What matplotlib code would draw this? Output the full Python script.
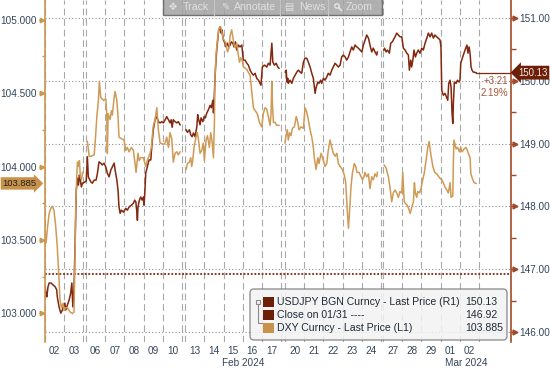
import numpy as np
import matplotlib
matplotlib.use("Agg")
import matplotlib.pyplot as plt
from matplotlib.patches import Rectangle, FancyBboxPatch, Circle
from matplotlib.lines import Line2D
from matplotlib.ticker import MultipleLocator, FormatStrFormatter
from matplotlib.transforms import blended_transform_factory, offset_copy

plt.rcParams["font.family"] = ["Liberation Sans", "DejaVu Sans"]

# --- data ------------------------------------------------------------------
# x = trading time in days from the left edge of the chart
JPY_T = [
    0.00, 0.04, 0.09, 0.15, 0.21, 0.31, 0.41, 0.52, 0.60, 0.63, 0.72, 0.81, 0.89, 0.94, 1.02,
    1.07, 1.15, 1.24, 1.32, 1.38, 1.43, 1.49, 1.61, 1.67, 1.72, 1.77, 1.82, 1.87, 1.93,
    2.12, 2.18, 2.23, 2.36, 2.44, 2.53, 2.63, 2.70, 2.78, 2.87, 2.95, 3.04, 3.13, 3.21, 3.30,
    3.39, 3.47, 3.56, 3.61, 3.70, 3.76, 3.81, 3.87, 3.93, 4.04, 4.16, 4.24, 4.33, 4.45, 4.55,
    4.62, 4.68, 4.73, 4.76, 4.79, 4.86, 4.93, 5.00, 5.07, 5.10, 5.14, 5.19, 5.27, 5.36, 5.45,
    5.50, 5.58, 5.67, 5.76, 5.84, 5.93, 6.02, 6.10, 6.19, 6.27, 6.36, 6.44, 6.50, 6.55, 6.61,
    6.70, 6.79, 6.87, 6.96,
    7.27, 7.34, 7.44, 7.51, 7.58, 7.65, 7.73, 7.82, 7.87, 7.92, 7.99, 8.04, 8.13, 8.20, 8.26,
    8.34, 8.42, 8.51, 8.57, 8.65, 8.68, 8.73, 8.78, 8.85, 8.90, 8.95, 9.02, 9.07, 9.12, 9.19,
    9.28, 9.33, 9.40, 9.47, 9.54, 9.60, 9.68, 9.74, 9.81, 9.88, 9.96, 10.05, 10.14, 10.22, 10.31,
    10.40, 10.48, 10.57, 10.66, 10.74, 10.83, 10.91, 11.00, 11.08, 11.13, 11.20, 11.31, 11.43,
    11.51, 11.60, 11.69, 11.74, 11.82, 11.91, 12.00, 12.06,
    12.38, 12.43, 12.47, 12.51, 12.54, 12.63, 12.72, 12.80, 12.89, 12.98, 13.06, 13.15, 13.23,
    13.32, 13.40, 13.49, 13.57, 13.66, 13.75, 13.83, 13.92, 13.97, 14.06, 14.12, 14.21, 14.26,
    14.35, 14.43, 14.52, 14.60, 14.69, 14.78, 14.86, 14.95, 15.04, 15.12, 15.21, 15.29, 15.38,
    15.47, 15.55, 15.64, 15.72, 15.81, 15.89, 15.98, 16.07, 16.15, 16.24, 16.33, 16.41, 16.50,
    16.58, 16.67, 16.75, 16.84, 16.92, 17.01, 17.10, 17.13,
    17.46, 17.50, 17.58, 17.65, 17.75, 17.82, 17.90, 17.95, 18.04, 18.13, 18.21, 18.30, 18.39,
    18.47, 18.56, 18.65, 18.73, 18.78, 18.85, 18.90, 18.96, 19.02, 19.09, 19.16, 19.24, 19.33,
    19.42, 19.50, 19.59, 19.68, 19.76, 19.85, 19.93, 20.02, 20.10, 20.19, 20.27, 20.36, 20.41,
    20.45, 20.53, 20.62, 20.71, 20.76, 20.81, 20.88, 20.93, 20.98, 21.02, 21.05, 21.10, 21.19,
    21.26, 21.34, 21.39, 21.43, 21.53, 21.65, 21.75, 21.80, 21.86, 21.91, 21.96, 22.01, 22.07,
    22.22,
]
JPY_V = [
    146.72, 146.62, 146.56, 146.72, 146.78, 146.78, 146.75, 146.72, 146.67, 146.56, 146.40, 146.30,
    146.35, 146.40, 146.46, 146.35, 146.43, 146.51, 146.62, 146.78, 146.40, 146.67, 148.26, 148.45,
    148.34, 148.50, 148.42, 148.31, 148.37,
    148.40, 148.79, 148.47, 148.39, 148.37, 148.42, 148.42, 148.53, 148.71, 148.69, 148.66, 148.69,
    148.63, 148.53, 148.47, 148.58, 148.63, 148.69, 148.58, 148.42, 148.26, 147.99, 147.89, 147.94,
    147.91, 147.97, 147.94, 147.99, 148.02, 148.05, 148.10, 148.07, 147.91, 147.78, 147.99, 148.10,
    148.15, 148.10, 148.15, 148.02, 148.21, 148.53, 148.63, 148.74, 148.74, 148.95, 149.22, 149.38,
    149.43, 149.35, 149.33, 149.35, 149.33, 149.38, 149.43, 149.38, 149.33, 149.38, 149.26, 149.38,
    149.35, 149.33, 149.35, 149.30,
    149.22, 149.18, 149.22, 149.14, 149.11, 149.17, 149.11, 149.26, 149.46, 149.38, 149.30, 149.41,
    149.35, 149.43, 149.41, 149.49, 149.54, 149.61, 149.57, 149.69, 149.49, 149.81, 150.17, 150.49,
    150.65, 150.81, 150.86, 150.76, 150.81, 150.65, 150.60, 150.54, 150.60, 150.54, 150.57, 150.62,
    150.60, 150.54, 150.62, 150.49, 150.57, 150.54, 150.57, 150.33, 150.33, 150.28, 150.25, 150.17,
    150.12, 150.09, 150.12, 150.04, 150.01, 149.96, 149.93, 150.22, 150.25, 150.22, 150.28, 150.25,
    150.60, 150.30, 150.25, 150.28, 150.22, 150.20,
    150.14, 150.17, 149.98, 150.04, 149.96, 150.01, 149.96, 150.04, 150.09, 150.14, 150.17, 150.14,
    150.12, 150.30, 150.36, 150.36, 150.30, 150.22, 150.12, 150.04, 149.80, 149.89, 149.98, 149.96,
    150.01, 149.96, 150.04, 150.01, 150.06, 150.12, 150.09, 150.17, 150.22, 150.28, 150.25, 150.22,
    150.25, 150.38, 150.41, 150.38, 150.33, 150.38, 150.46, 150.54, 150.49, 150.57, 150.54, 150.52,
    150.49, 150.46, 150.57, 150.65, 150.73, 150.68, 150.57, 150.46, 150.52, 150.46, 150.41, 150.46,
    150.49, 150.52, 150.46, 150.49, 150.44, 150.60, 150.62, 150.65, 150.70, 150.76, 150.73, 150.70,
    150.70, 150.52, 150.49, 150.44, 150.41, 150.17, 150.33, 150.22, 150.33, 150.49, 150.38, 150.44,
    150.49, 150.44, 150.52, 150.49, 150.60, 150.68, 150.76, 150.70, 150.76, 150.68, 150.73, 150.70,
    150.68, 150.65, 150.54, 149.85, 149.77, 149.80, 149.73, 149.69, 149.96, 150.01, 149.90, 149.49,
    149.32, 149.65, 149.98, 149.96, 150.01, 149.98, 150.01, 150.28, 150.38, 150.49, 150.57, 150.44,
    150.54, 150.44, 150.22, 150.17, 150.14, 150.13,
]

DXY_T = [
    0.00, 0.05, 0.13, 0.21, 0.31, 0.38, 0.46, 0.55, 0.63, 0.72, 0.77, 0.84, 0.93, 0.98, 1.07,
    1.15, 1.29, 1.41, 1.49, 1.53, 1.58, 1.63, 1.67, 1.72, 1.77, 1.82, 1.88, 1.93,
    2.18, 2.23, 2.27, 2.37, 2.53, 2.58, 2.67, 2.75, 2.80, 2.87, 3.01, 3.13, 3.18, 3.21, 3.25,
    3.35, 3.42, 3.47, 3.56, 3.61, 3.70, 3.76, 3.81, 3.93, 4.07, 4.16, 4.24, 4.33, 4.45, 4.55,
    4.62, 4.69, 4.79, 4.85, 4.93, 5.07, 5.19, 5.27, 5.41, 5.48, 5.57, 5.67, 5.76, 5.84, 5.93,
    6.10, 6.19, 6.27, 6.36, 6.44, 6.53, 6.61, 6.70, 6.79, 6.87, 6.96,
    7.27, 7.34, 7.44, 7.51, 7.56, 7.61, 7.68, 7.78, 7.85, 7.90, 7.99, 8.08, 8.16, 8.21, 8.30,
    8.37, 8.47, 8.54, 8.61, 8.68, 8.73, 8.76, 8.82, 8.90, 8.97, 9.06, 9.16, 9.23, 9.32, 9.40,
    9.49, 9.54, 9.62, 9.68, 9.74, 9.79, 9.88, 9.95, 10.02, 10.09, 10.16, 10.22, 10.31, 10.40,
    10.48, 10.57, 10.66, 10.74, 10.83, 10.94, 11.05, 11.17, 11.25, 11.34, 11.43, 11.51, 11.60,
    11.65, 11.69, 11.72, 11.77, 11.86, 11.94, 12.06,
    12.37, 12.42, 12.49, 12.54, 12.61, 12.68, 12.75, 12.85, 12.95, 13.03, 13.09, 13.20, 13.32,
    13.40, 13.49, 13.57, 13.66, 13.75, 13.83, 13.88, 13.97, 14.06, 14.12, 14.23, 14.35, 14.43,
    14.52, 14.60, 14.69, 14.78, 14.86, 14.95, 15.04, 15.12, 15.21, 15.33, 15.43, 15.50, 15.57,
    15.64, 15.71, 15.77, 15.84, 15.94, 16.02, 16.08, 16.19, 16.29, 16.36, 16.44, 16.49, 16.58,
    16.67, 16.75, 16.84, 16.92, 17.01, 17.10, 17.13,
    17.48, 17.58, 17.70, 17.78, 17.87, 17.95, 18.04, 18.13, 18.21, 18.30, 18.39, 18.44, 18.51,
    18.56, 18.65, 18.73, 18.82, 18.90, 18.99, 19.04, 19.09, 19.16, 19.21, 19.30, 19.38, 19.47,
    19.54, 19.64, 19.73, 19.80, 19.88, 19.99, 20.09, 20.19, 20.30, 20.36, 20.45, 20.53, 20.62,
    20.71, 20.79, 20.88, 20.93, 21.02, 21.05, 21.08, 21.19, 21.27, 21.36, 21.43, 21.50, 21.60,
    21.70, 21.77, 21.82, 21.91, 21.95, 22.05, 22.12, 22.22,
]
DXY_V = [
    103.52, 103.48, 103.59, 103.68, 103.72, 103.73, 103.70, 103.59, 103.45, 103.23, 103.09, 103.04,
    103.07, 103.02, 103.04, 103.04, 103.01, 103.00, 103.01, 103.28, 103.72, 103.93, 104.03, 104.00,
    104.04, 103.93, 103.91, 103.96,
    104.17, 104.12, 104.07, 104.07, 104.08, 104.16, 104.34, 104.45, 104.58, 104.47, 104.45, 104.46,
    104.36, 104.09, 104.36, 104.32, 104.38, 104.35, 104.47, 104.51, 104.45, 104.34, 104.20, 104.19,
    104.18, 104.11, 104.13, 104.10, 104.13, 104.11, 104.04, 103.96, 104.09, 104.04, 104.06, 104.06,
    104.00, 104.04, 104.09, 104.13, 104.27, 104.32, 104.40, 104.25, 104.16, 104.15, 104.16, 104.20,
    104.13, 104.23, 104.19, 104.03, 104.09, 104.10, 104.08, 104.10,
    103.98, 104.02, 104.03, 104.06, 104.00, 104.04, 104.13, 104.20, 104.23, 104.19, 104.09, 104.11,
    104.16, 104.04, 104.18, 104.21, 104.13, 104.23, 104.17, 104.06, 104.30, 104.61, 104.77, 104.88,
    104.94, 104.95, 104.88, 104.86, 104.84, 104.78, 104.81, 104.89, 104.93, 104.88, 104.83, 104.81,
    104.84, 104.77, 104.71, 104.74, 104.72, 104.68, 104.67, 104.66, 104.64, 104.62, 104.50, 104.40,
    104.38, 104.36, 104.30, 104.27, 104.36, 104.40, 104.39, 104.34, 104.28, 104.36, 104.58, 104.43,
    104.30, 104.30, 104.28, 104.28,
    104.16, 104.21, 104.25, 104.18, 104.23, 104.21, 104.26, 104.27, 104.34, 104.30, 104.25, 104.27,
    104.26, 104.40, 104.37, 104.32, 104.25, 104.20, 104.13, 104.06, 103.98, 104.06, 104.02, 104.09,
    104.04, 104.00, 104.02, 104.11, 104.18, 104.13, 104.09, 104.07, 104.09, 104.02, 104.00, 103.98,
    103.94, 103.89, 103.72, 103.58, 103.72, 103.86, 103.95, 104.02, 104.00, 103.96, 103.96, 103.93,
    103.91, 103.93, 103.96, 103.93, 103.95, 103.85, 103.93, 103.91, 103.95, 103.93, 103.96,
    104.01, 103.99, 103.93, 103.86, 103.76, 103.82, 103.84, 103.82, 103.79, 103.83, 103.82, 103.96,
    103.77, 103.75, 103.74, 103.72, 103.68, 103.72, 103.76, 103.89, 103.82, 103.79, 103.83, 103.82,
    103.85, 103.91, 103.95, 104.04, 104.13, 104.17, 104.09, 104.00, 103.96, 103.95, 103.93, 103.92,
    103.91, 103.89, 103.86, 103.84, 103.82, 103.89, 103.79, 103.80, 104.04, 104.18, 104.12, 104.13,
    104.10, 104.13, 104.10, 104.12, 104.13, 104.11, 104.09, 104.06, 103.95, 103.91, 103.89, 103.885,
]

JPY_CLOSE = 146.92          # close on 01/31
JPY_CHG_PCT = 2.19          # as shown on the chart
DXY_LAST = 103.885

# x axis: trading weeks, day labels and where each week starts
WEEK_START = [0.0, 2.11, 7.22, 12.37, 17.42]
WEEK_LABELS = [["02", "03"],
               ["06", "07", "08", "09", "10"],
               ["13", "14", "15", "16", "17"],
               ["20", "21", "22", "23", "24"],
               ["27", "28", "29", "01", "02"]]
MONTHS = [("Feb 2024", 10.2), ("Mar 2024", 21.7)]
DAY_W = 0.99

# --- styling -----------------------------------------------------------------
C_JPY = "#82280e"
C_DXY = "#cf9a55"
C_SPINE_L = "#c9974d"
C_SPINE_R = "#a04a2a"
C_TXT = "#34455a"
C_GRID = "#a8a8a8"

W, H = 550, 368
fig = plt.figure(figsize=(W / 100, H / 100), dpi=100)
ax = fig.add_axes([44.5 / W, 26 / H, 466.5 / W, 342 / H])   # USDJPY, right scale
ax2 = ax.twinx()                                            # DXY, left scale


def P(px, py):
    """figure pixel (from top-left) -> inches for fig.dpi_scale_trans"""
    return px / 100, (H - py) / 100


def with_gaps(t, v, max_step=0.22):
    t = np.asarray(t, float)
    v = np.asarray(v, float)
    brk = np.where(np.diff(t) > max_step)[0] + 1
    return np.insert(t, brk, np.nan), np.insert(v, brk, np.nan)


assert len(JPY_T) == len(JPY_V) and len(DXY_T) == len(DXY_V)

ax.set_xlim(-0.03, 24.02)
ax.set_ylim(145.841, 151.287)
ax2.set_ylim(102.806, 105.133)

# vertical day gridlines (double at weekends)
centers, labels = [], []
for s, labs in zip(WEEK_START, WEEK_LABELS):
    for i in range(len(labs) + 1):
        ax.axvline(s + i * DAY_W, color=C_GRID, lw=0.8, ls=(0, (6, 3.5)), zorder=0)
    for i, lab in enumerate(labs):
        centers.append(s + (i + 0.5) * DAY_W)
        labels.append(lab)

# horizontal dotted grid at right-axis ticks
for v in np.arange(146, 151.5, 1.0):
    ax.axhline(v, color="#8c8c8c", lw=0.8, ls=(0, (1, 2)), zorder=0)
ax.axhline(JPY_CLOSE, color=C_JPY, lw=1.3, ls=(0, (1, 1)), zorder=1)

# series
tj, vj = with_gaps(JPY_T, JPY_V)
ax.plot(tj, vj, color=C_JPY, lw=1.1, zorder=3)
ax.plot([JPY_T[-1], ax.get_xlim()[1]], [JPY_V[-1], JPY_V[-1]], color=C_JPY, lw=0.9, zorder=3)
td, vd = with_gaps(DXY_T, DXY_V)
ax2.plot(td, vd, color=C_DXY, lw=1.1, zorder=3)

# spines
for s in ["top", "bottom", "left"]:
    ax.spines[s].set_visible(False)
for s in ["top", "bottom", "right"]:
    ax2.spines[s].set_visible(False)
ax.spines["right"].set_color(C_SPINE_R)
ax.spines["right"].set_linewidth(1.2)
ax2.spines["left"].set_color(C_SPINE_L)
ax2.spines["left"].set_linewidth(1.2)

# right axis (USDJPY)
ax.yaxis.tick_right()
ax.set_yticks(np.arange(146, 151.5, 1.0))
ax.yaxis.set_major_formatter(FormatStrFormatter("%.2f"))
ax.yaxis.set_minor_locator(MultipleLocator(0.5))
ax.tick_params(axis="y", which="major", length=4.5, width=1, color=C_SPINE_R,
               labelsize=7.2, labelcolor=C_TXT, pad=1.5)
ax.tick_params(axis="y", which="minor", length=3.5, width=1, color=C_SPINE_R)
tr = offset_copy(blended_transform_factory(ax.transAxes, ax.transData), fig=fig, x=4, y=0, units="dots")
ax.plot([1.0] * 6, np.arange(146, 151.5, 1.0), ls="none", marker=">", ms=3.5,
        color=C_SPINE_R, transform=tr, clip_on=False)

# left axis (DXY)
ax2.yaxis.tick_left()
ax2.set_yticks(np.arange(103, 105.01, 0.5))
ax2.yaxis.set_major_formatter(FormatStrFormatter("%.3f"))
ax2.yaxis.set_minor_locator(MultipleLocator(0.25))
ax2.tick_params(axis="y", which="major", length=4, width=1, color=C_SPINE_L,
                labelsize=7.2, labelcolor=C_TXT, pad=1.3)
ax2.tick_params(axis="y", which="minor", length=2.5, width=1, color=C_SPINE_L)
tl = offset_copy(blended_transform_factory(ax2.transAxes, ax2.transData), fig=fig, x=-2.5, y=0, units="dots")
ax2.plot([0.0] * 5, np.arange(103, 105.01, 0.5), ls="none", marker=">", ms=3.2,
         color=C_SPINE_L, transform=tl, clip_on=False)

# x axis
ax.set_xticks(centers)
ax.set_xticklabels(labels)
ax.tick_params(axis="x", length=0, labelsize=7.2, labelcolor=C_TXT, pad=3)
bt = blended_transform_factory(ax.transData, ax.transAxes)
for name, xm in MONTHS:
    ax.text(xm, -0.062, name, transform=bt, ha="center", va="center",
            fontsize=7.2, color=C_TXT, clip_on=False)

# last value tags
last = JPY_V[-1]
ax.text(1.0, last, f"{last:.2f}", transform=offset_copy(
    blended_transform_factory(ax.transAxes, ax.transData), fig=fig, x=7, y=0, units="dots"),
    ha="left", va="center", fontsize=6.9, color="#f3e9e4", clip_on=False, zorder=6,
    bbox=dict(boxstyle="larrow,pad=0.2", fc="#6e1f08", ec="none"))
chg = last - JPY_CLOSE
bl = blended_transform_factory(ax.transAxes, ax.transData)
ax.text(1.0, last, f"+{chg:.2f}", transform=offset_copy(bl, fig=fig, x=-3, y=-8, units="dots"),
        ha="right", va="center", fontsize=7, color="#a8583a", zorder=6)
ax.text(1.0, last, f"{JPY_CHG_PCT:.2f}%", transform=offset_copy(bl, fig=fig, x=-3, y=-20, units="dots"),
        ha="right", va="center", fontsize=7, color="#a8583a", zorder=6)
ax2.text(0.0, DXY_LAST, f"{DXY_LAST:.3f}", transform=offset_copy(
    blended_transform_factory(ax2.transAxes, ax2.transData), fig=fig, x=-8, y=0, units="dots"),
    ha="right", va="center", fontsize=6.8, color="#1f1f1f", clip_on=False, zorder=6,
    bbox=dict(boxstyle="rarrow,pad=0.18", fc="#c8924a", ec="none"))

# --- legend (drawn by hand so values sit in their own column) ------------------
ft = fig.dpi_scale_trans
x0, y0 = P(250, 340)
x1, y1 = P(507, 289)
fig.patches.append(FancyBboxPatch((x0, y0), x1 - x0, y1 - y0,
                                  boxstyle="round,pad=0,rounding_size=0.04",
                                  fc="#f3f3f3", ec="#7f7f7f", lw=1.0, alpha=0.85,
                                  transform=ft, zorder=4))
# little tree icon
ix, iy = P(255.5, 304)
fig.patches.append(Rectangle((ix, iy), 0.045, 0.045, fc="none", ec="#8a8a8a", lw=0.8,
                             transform=ft, zorder=5))
lx0, ly0 = P(257.8, 304)
lx1, ly1 = P(262.5, 323)
fig.lines.append(Line2D([lx0, lx0, lx1], [ly0, ly1, ly1], color="#8a8a8a", lw=0.8,
                        transform=ft, zorder=5))
legend_rows = [
    ("USDJPY BGN Curncy - Last Price (R1)", f"{last:.2f}", "#6e1f08"),
    ("Close on 01/31 ----", f"{JPY_CLOSE:.2f}", "#6e1f08"),
    ("DXY Curncy - Last Price (L1)", f"{DXY_LAST:.3f}", "#c8924a"),
]
for k, (name, val, col) in enumerate(legend_rows):
    py = 302 + 13 * k
    sx, sy = P(263, py + 5)
    fig.patches.append(Rectangle((sx, sy), 0.105, 0.10, fc=col, ec="none", transform=ft, zorder=5))
    tx, ty = P(277, py)
    fig.text(tx, ty, name, transform=ft, fontsize=7.6, color="#1e2a38", va="center", zorder=6)
    vx, _ = P(465, py)
    fig.text(vx, ty, val, transform=ft, fontsize=7.6, color="#1e2a38", va="center", zorder=6)

# --- chart toolbar at the top --------------------------------------------------
bx0, by0 = P(163, 15)
fig.patches.append(Rectangle((bx0, by0), 2.19, 0.19, fc="#a3a3a3", ec="#5f5f5f", lw=1.0,
                             alpha=0.85, transform=ft, zorder=4))
for dx in [214, 280, 328]:
    a, b = P(dx, 0)
    c, d = P(dx, 15)
    fig.lines.append(Line2D([a, c], [b, d], color="#c6c6c6", lw=0.8, transform=ft, zorder=5))
tool_items = [("\u2725", 173, "Track", 183), ("\u270e", 225, "Annotate", 234),
              ("\u25a4", 289, "News", 299), (None, 338, "Zoom", 346)]
for icon, icx, label, tx in tool_items:
    _, ty = P(0, 7)
    if icon:
        fig.text(icx / 100, ty, icon, transform=ft, fontsize=7, color="#e4e4e4",
                 ha="center", va="center", family="DejaVu Sans", zorder=6)
    else:
        cx, cy = P(icx - 1, 6)
        fig.patches.append(Circle((cx, cy), 0.022, fc="none", ec="#e4e4e4", lw=1.0,
                                  transform=ft, zorder=6))
        a, b = P(icx + 0.8, 7.8)
        c, d = P(icx + 3.5, 10.5)
        fig.lines.append(Line2D([a, c], [b, d], color="#e4e4e4", lw=1.2, transform=ft, zorder=6))
    fig.text(tx / 100, ty, label, transform=ft, fontsize=7.6, color="#e0e0e0",
             va="center", zorder=6)

fig.savefig("out.png", dpi=100)
